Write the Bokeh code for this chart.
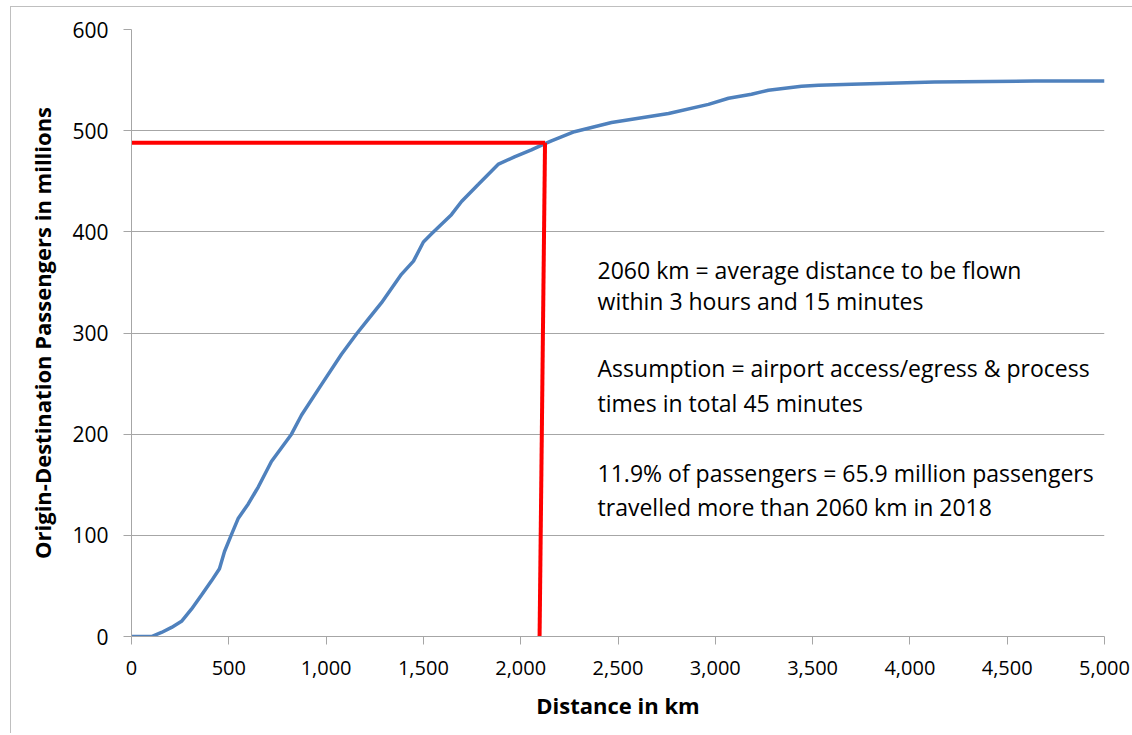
from bokeh.plotting import figure
from bokeh.models import Range1d, FixedTicker, NumeralTickFormatter, ColumnDataSource, Label
from bokeh.embed import file_html
from bokeh.resources import INLINE

# Cumulative origin-destination passengers (millions) by distance (km)
distance_km = [0, 103, 154, 206, 257, 308, 360, 411, 452, 478, 514, 549, 600, 652,
               719, 822, 874, 976, 1079, 1156, 1218, 1285, 1387, 1449, 1500, 1542,
               1644, 1696, 1783, 1834, 1886, 1968, 2055, 2122, 2158, 2276, 2467,
               2760, 2965, 3068, 3186, 3273, 3443, 3530, 3700, 4126, 4640, 5000]
passengers_m = [0, 0, 4, 9, 15, 27, 41, 55, 67, 84, 101, 117, 131, 148,
                173, 200, 219, 249, 279, 299, 314, 330, 358, 371, 390, 398,
                417, 430, 447, 457, 467, 474, 481, 487, 490, 499, 508,
                517, 526, 532, 536, 540, 544, 545, 546, 548, 549, 549]

# Reference (red) lines
ref_level = 488          # millions
ref_km_top = 2125        # km at the curve
ref_km_bottom = 2097     # km at the axis

x_ticks = [0, 500, 1000, 1500, 2000, 2500, 3000, 3500, 4000, 4500, 5000]
y_ticks = [0, 100, 200, 300, 400, 500, 600]

notes = ["2060 km = average distance to be flown",
         "within 3 hours and 15 minutes",
         "Assumption = airport access/egress & process",
         "times in total 45 minutes",
         "11.9% of passengers = 65.9 million passengers",
         "travelled more than 2060 km in 2018"]
note_x = 2395
note_y = [362, 332, 265, 231, 162, 128]

FONT = "Open Sans"
GRID = "#a6a6a6"

p = figure(width=1122, height=727, output_backend="svg", toolbar_location=None,
           x_range=Range1d(0, 5000), y_range=Range1d(0, 600),
           min_border_left=120, min_border_right=29, min_border_top=22, min_border_bottom=98)
p.outline_line_color = None
p.styles = {"margin-left": "10px", "margin-top": "6px",
            "border-left": "1px solid #bfbfbf", "border-top": "1px solid #bfbfbf"}

p.xgrid.grid_line_color = None
p.ygrid.grid_line_color = GRID
p.ygrid.grid_line_width = 1

for ax in (p.xaxis[0], p.yaxis[0]):
    ax.axis_line_color = GRID
    ax.major_tick_line_color = GRID
    ax.major_tick_out = 8
    ax.major_tick_in = 0
    ax.minor_tick_line_color = None
    ax.major_label_text_font = FONT
    ax.major_label_text_color = "#000000"
    ax.axis_label_text_font = FONT
    ax.axis_label_text_font_style = "bold"
    ax.axis_label_text_font_size = "22px"
    ax.axis_label_text_color = "#000000"
p.xaxis.major_label_text_font_size = "20px"
p.yaxis.major_label_text_font_size = "21px"

p.xaxis.ticker = FixedTicker(ticks=x_ticks)
p.yaxis.ticker = FixedTicker(ticks=y_ticks)
p.xaxis.formatter = NumeralTickFormatter(format="0,0")
p.yaxis.formatter = NumeralTickFormatter(format="0")
p.xaxis.axis_label = "Distance in km"
p.yaxis.axis_label = "Origin-Destination Passengers in millions"
p.xaxis.major_label_standoff = 16
p.yaxis.major_label_standoff = 15
p.xaxis.axis_label_standoff = 12
p.yaxis.axis_label_standoff = 12

src = ColumnDataSource(dict(x=distance_km, y=passengers_m))
p.line("x", "y", source=src, line_color="#4f81bd", line_width=3.5)

p.line([0, ref_km_top], [ref_level, ref_level], line_color="#ff0000", line_width=4)
p.line([ref_km_top, ref_km_bottom], [ref_level, 0], line_color="#ff0000", line_width=4)

for txt, yy in zip(notes, note_y):
    p.add_layout(Label(x=note_x, y=yy, text=txt, text_font=FONT, text_font_size="23px",
                       text_baseline="middle", text_align="left", text_color="#000000"))

open("out.html", "w").write(file_html(p, INLINE))
